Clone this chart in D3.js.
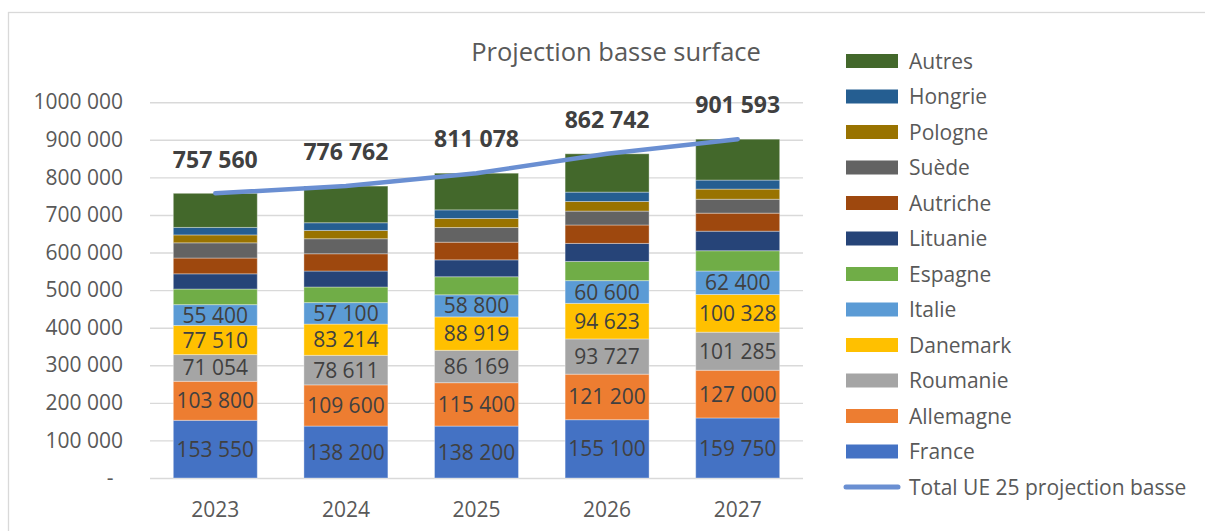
<!DOCTYPE html>
<html>
<head>
<meta charset="utf-8">
<script src="https://cdn.jsdelivr.net/npm/d3@7/dist/d3.min.js"></script>
<style>
  html, body { margin: 0; padding: 0; background: #fff; }
  svg { display: block; font-family: "Open Sans", "Noto Sans", sans-serif; }
</style>
</head>
<body>
<svg id="chart" width="1205" height="531"></svg>
<script>
// ---------------- DATA ----------------
const years = ["2023", "2024", "2025", "2026", "2027"];
const france    = [153550, 138200, 138200, 155100, 159750];
const allemagne = [103800, 109600, 115400, 121200, 127000];
const roumanie  = [71054, 78611, 86169, 93727, 101285];
const danemark  = [77510, 83214, 88919, 94623, 100328];
const italie    = [55400, 57100, 58800, 60600, 62400];
const espagne   = [41500, 41500, 48000, 51000, 54000];
const lituanie  = [40500, 42500, 45000, 48000, 52000];
const autriche  = [42000, 46000, 47000, 49000, 48000];
const suede     = [40500, 40000, 39000, 37000, 37000];
const pologne   = [21000, 22000, 24000, 25500, 27000];
const hongrie   = [20000, 20500, 23000, 25000, 24000];
const autres    = [90746, 97537, 97590, 101992, 108830];
const totals    = [757560, 776762, 811078, 862742, 901593];
const seriesNames = ["France", "Allemagne", "Roumanie", "Danemark", "Italie", "Espagne",
                     "Lituanie", "Autriche", "Suède", "Pologne", "Hongrie", "Autres"];
const labelledSeries = ["France", "Allemagne", "Roumanie", "Danemark", "Italie"];
const lineName = "Total UE 25 projection basse";
const title = "Projection basse surface";
const yTickValues = [0, 100000, 200000, 300000, 400000, 500000, 600000, 700000, 800000, 900000, 1000000];
const yTickLabels = ["-", "100 000", "200 000", "300 000", "400 000", "500 000", "600 000",
                     "700 000", "800 000", "900 000", "1000 000"];

// ---------------- STYLE ----------------
const colors = {
  "France": "#4472C4", "Allemagne": "#ED7D31", "Roumanie": "#A5A5A5", "Danemark": "#FFC000",
  "Italie": "#5B9BD5", "Espagne": "#70AD47", "Lituanie": "#264478", "Autriche": "#9E480E",
  "Suède": "#636363", "Pologne": "#997300", "Hongrie": "#255E91", "Autres": "#43682B"
};
const lineColor = "#6A8FD2";
const textGray = "#595959";
const darkText = "#404040";

const seriesValues = {
  "France": france, "Allemagne": allemagne, "Roumanie": roumanie, "Danemark": danemark,
  "Italie": italie, "Espagne": espagne, "Lituanie": lituanie, "Autriche": autriche,
  "Suède": suede, "Pologne": pologne, "Hongrie": hongrie, "Autres": autres
};
const table = years.map((y, i) => {
  const row = { year: y, total: totals[i] };
  seriesNames.forEach(s => row[s] = seriesValues[s][i]);
  return row;
});

const svg = d3.select("#chart");
const W = 1205, H = 531;
svg.append("rect").attr("width", W).attr("height", H).attr("fill", "#fff");
// chart area border
svg.append("rect").attr("x", 8.5).attr("y", 12.5).attr("width", W + 10).attr("height", H + 10)
  .attr("fill", "none").attr("stroke", "#D9D9D9").attr("stroke-width", 1.3);

const plot = { left: 150, right: 803, top: 102.2, bottom: 478 };

const x = d3.scaleBand().domain(years).range([plot.left, plot.right]).paddingInner(0.357).paddingOuter(0.1785);
const y = d3.scaleLinear().domain([0, 1000000]).range([plot.bottom, plot.top]);

const fmt = v => d3.format(",")(v).replace(/,/g, " ");

// gridlines
const grid = svg.append("g").attr("transform", `translate(${plot.left},0)`)
  .call(d3.axisLeft(y).tickValues(yTickValues).tickSize(-(plot.right - plot.left)).tickFormat(""));
grid.select(".domain").remove();
grid.selectAll(".tick line").attr("stroke", "#D9D9D9").attr("stroke-width", 1.4);

// y axis labels
const yAxis = svg.append("g").attr("transform", `translate(123,0)`)
  .call(d3.axisLeft(y).tickValues(yTickValues).tickSize(0).tickPadding(0)
    .tickFormat((d, i) => yTickLabels[i]));
yAxis.select(".domain").remove();
yAxis.selectAll("text").attr("font-size", 21).attr("fill", textGray)
  .attr("font-family", "'Open Sans', sans-serif");
yAxis.selectAll(".tick").filter(d => d === 0).select("text")
  .attr("text-anchor", "middle").attr("x", -13);

// x axis labels
const xAxis = svg.append("g").attr("transform", `translate(0,${plot.bottom})`)
  .call(d3.axisBottom(x).tickSize(0).tickPadding(24));
xAxis.select(".domain").remove();
xAxis.selectAll("text").attr("font-size", 21).attr("fill", textGray)
  .attr("font-family", "'Open Sans', sans-serif");

// stacked bars
const stack = d3.stack().keys(seriesNames);
const stacked = stack(table);

const layers = svg.append("g").selectAll("g").data(stacked).join("g")
  .attr("fill", d => colors[d.key]);
layers.selectAll("rect").data(d => d).join("rect")
  .attr("x", d => x(d.data.year))
  .attr("width", x.bandwidth())
  .attr("y", d => y(d[1]))
  .attr("height", d => y(d[0]) - y(d[1]))
  .attr("stroke", "rgba(255,255,255,0.35)")
  .attr("stroke-width", 1);

// segment labels
const labelLayers = svg.append("g").selectAll("g")
  .data(stacked.filter(s => labelledSeries.includes(s.key))).join("g");
labelLayers.selectAll("text").data(d => d).join("text")
  .attr("x", d => x(d.data.year) + x.bandwidth() / 2)
  .attr("y", d => (y(d[0]) + y(d[1])) / 2)
  .attr("dy", "0.36em")
  .attr("text-anchor", "middle")
  .attr("font-size", 21)
  .attr("fill", darkText)
  .text(d => fmt(d[1] - d[0]));

// total line
const line = d3.line()
  .x(d => x(d.year) + x.bandwidth() / 2)
  .y(d => y(d.total));
svg.append("path").datum(table)
  .attr("d", line)
  .attr("fill", "none")
  .attr("stroke", lineColor)
  .attr("stroke-width", 4.5)
  .attr("stroke-linecap", "round")
  .attr("stroke-linejoin", "round");

// total labels
svg.append("g").selectAll("text").data(table).join("text")
  .attr("x", d => x(d.year) + x.bandwidth() / 2)
  .attr("y", d => y(d.total) - 34)
  .attr("dy", "0.36em")
  .attr("text-anchor", "middle")
  .attr("font-size", 23)
  .attr("font-weight", "bold")
  .attr("fill", darkText)
  .text(d => fmt(d.total));

// title
svg.append("text")
  .attr("x", 616).attr("y", 52).attr("dy", "0.36em")
  .attr("text-anchor", "middle")
  .attr("font-size", 25.5)
  .attr("fill", textGray)
  .text(title);

// legend
const legendItems = seriesNames.slice().reverse().map(n => ({ name: n, type: "bar" }))
  .concat([{ name: lineName, type: "line" }]);
const ly = d3.scaleLinear().domain([0, legendItems.length - 1]).range([61, 487]);
const legend = svg.append("g").selectAll("g").data(legendItems).join("g")
  .attr("transform", (d, i) => `translate(0,${ly(i)})`);
legend.filter(d => d.type === "bar").append("rect")
  .attr("x", 846).attr("y", -7).attr("width", 52).attr("height", 14)
  .attr("fill", d => colors[d.name]);
legend.filter(d => d.type === "line").append("line")
  .attr("x1", 846).attr("x2", 898).attr("y1", 0).attr("y2", 0)
  .attr("stroke", lineColor).attr("stroke-width", 5).attr("stroke-linecap", "round");
legend.append("text")
  .attr("x", 909).attr("y", 0).attr("dy", "0.36em")
  .attr("font-size", 21)
  .attr("fill", textGray)
  .text(d => d.name);
</script>
</body>
</html>
